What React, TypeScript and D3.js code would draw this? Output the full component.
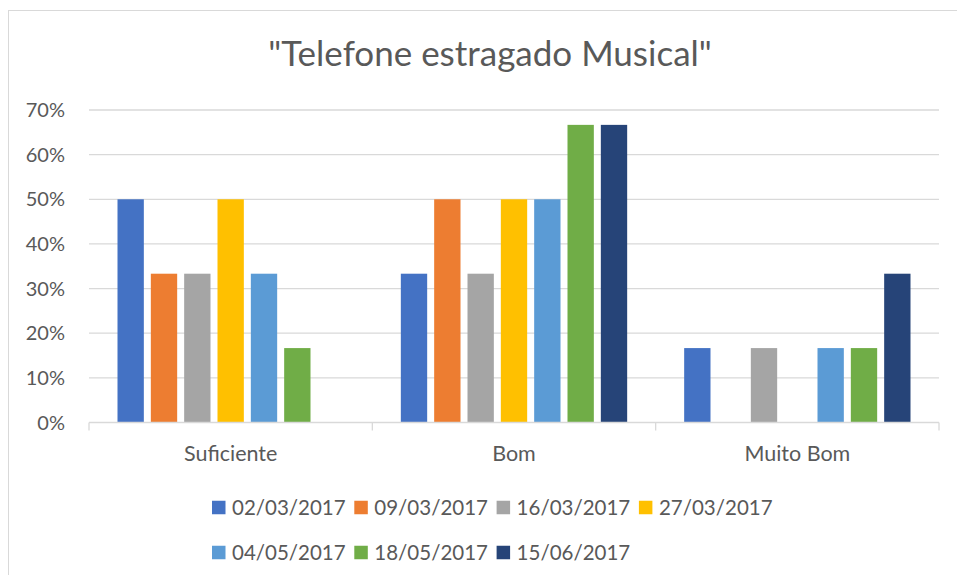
import React, { useEffect, useRef } from 'react';
import * as d3 from 'd3';

const categories = ['Suficiente', 'Bom', 'Muito Bom'];
const seriesNames = [
  '02/03/2017',
  '09/03/2017',
  '16/03/2017',
  '27/03/2017',
  '04/05/2017',
  '18/05/2017',
  '15/06/2017',
];
// one array per category, one value per series (fractions)
const suficiente = [0.5, 0.3333, 0.3333, 0.5, 0.3333, 0.1667, 0];
const bom = [0.3333, 0.5, 0.3333, 0.5, 0.5, 0.6667, 0.6667];
const muitoBom = [0.1667, 0, 0.1667, 0, 0.1667, 0.1667, 0.3333];
const yTicks = [0, 0.1, 0.2, 0.3, 0.4, 0.5, 0.6, 0.7];
const colors = ['#4472C4', '#ED7D31', '#A5A5A5', '#FFC000', '#5B9BD5', '#70AD47', '#264478'];

const width = 957;
const height = 575;
const plot = { left: 89, right: 939, top: 110, bottom: 422.5 };
const textColor = '#595959';
const font = 'Lato, sans-serif';

const App = (): JSX.Element => {
  const container = useRef<SVGSVGElement>(null);

  useEffect(() => {
    const svg = d3.select(container.current);
    svg.selectAll('*').remove();

    const values = [suficiente, bom, muitoBom];

    // chart border
    svg
      .append('rect')
      .attr('x', 8.5)
      .attr('y', 10.5)
      .attr('width', 1000)
      .attr('height', 700)
      .attr('fill', 'white')
      .attr('stroke', '#d9d9d9');

    svg
      .append('text')
      .attr('x', 490)
      .attr('y', 66)
      .attr('text-anchor', 'middle')
      .attr('font-family', font)
      .attr('font-size', 35)
      .attr('fill', textColor)
      .text('"Telefone estragado Musical"');

    const xScale = d3.scaleBand<string>().domain(categories).range([plot.left, plot.right]);
    const xInner = d3
      .scaleBand<string>()
      .domain(seriesNames)
      .range([0, xScale.bandwidth()])
      .paddingInner(0.21)
      .paddingOuter(0.855);
    const yScale = d3.scaleLinear().domain([0, 0.7]).range([plot.bottom, plot.top]);

    // gridlines
    svg
      .append('g')
      .selectAll('line')
      .data(yTicks.slice(1))
      .join('line')
      .attr('x1', plot.left)
      .attr('x2', plot.right)
      .attr('y1', (d) => yScale(d))
      .attr('y2', (d) => yScale(d))
      .attr('stroke', '#d9d9d9')
      .attr('stroke-width', 1.3);

    // y labels
    svg
      .append('g')
      .selectAll('text')
      .data(yTicks)
      .join('text')
      .attr('x', 65)
      .attr('y', (d) => yScale(d))
      .attr('dy', '0.35em')
      .attr('text-anchor', 'end')
      .attr('font-family', font)
      .attr('font-size', 20)
      .attr('fill', textColor)
      .text((d) => d3.format('.0%')(d));

    // bars
    categories.forEach((cat, ci) => {
      svg
        .append('g')
        .attr('transform', 'translate(' + xScale(cat) + ',0)')
        .selectAll('rect')
        .data(values[ci])
        .join('rect')
        .attr('x', (_, i) => xInner(seriesNames[i]) || 0)
        .attr('width', xInner.bandwidth())
        .attr('y', (d) => yScale(d))
        .attr('height', (d) => plot.bottom - yScale(d))
        .attr('fill', (_, i) => colors[i]);
    });

    // x axis
    const xAxis = svg.append('g');
    xAxis
      .append('line')
      .attr('x1', plot.left)
      .attr('x2', plot.right)
      .attr('y1', plot.bottom)
      .attr('y2', plot.bottom)
      .attr('stroke', '#d9d9d9')
      .attr('stroke-width', 1.3);
    const boundaries = categories.map((c) => xScale(c) || 0).concat([plot.right]);
    xAxis
      .selectAll('line.tick')
      .data(boundaries)
      .join('line')
      .attr('class', 'tick')
      .attr('x1', (d) => d)
      .attr('x2', (d) => d)
      .attr('y1', plot.bottom)
      .attr('y2', plot.bottom + 8)
      .attr('stroke', '#d9d9d9')
      .attr('stroke-width', 1.3);
    xAxis
      .selectAll('text')
      .data(categories)
      .join('text')
      .attr('x', (d) => (xScale(d) || 0) + xScale.bandwidth() / 2)
      .attr('y', 453)
      .attr('dy', '0.35em')
      .attr('text-anchor', 'middle')
      .attr('font-family', font)
      .attr('font-size', 21.5)
      .attr('fill', textColor)
      .text((d) => d);

    // legend, 4 columns
    const legend = svg
      .append('g')
      .selectAll('g')
      .data(seriesNames)
      .join('g')
      .attr('transform', (_, i) => 'translate(' + (212 + (i % 4) * 142.3) + ',' + (507.5 + Math.floor(i / 4) * 45) + ')');
    legend
      .append('rect')
      .attr('x', 0)
      .attr('y', -6.75)
      .attr('width', 13.5)
      .attr('height', 13.5)
      .attr('fill', (_, i) => colors[i]);
    legend
      .append('text')
      .attr('x', 20)
      .attr('y', 0)
      .attr('dy', '0.35em')
      .attr('font-family', font)
      .attr('font-size', 20.5)
      .attr('fill', textColor)
      .text((d) => d);
  }, []);

  return (
    <svg
      ref={container}
      width={width}
      height={height}
      style={{ position: 'absolute', left: 0, top: 0, background: 'white' }}
    />
  );
};

export default App;
